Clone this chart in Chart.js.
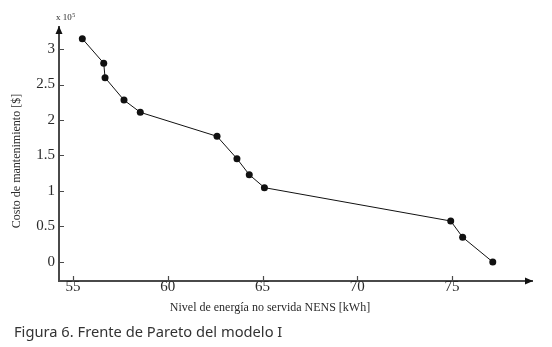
<!DOCTYPE html>
<html>
<head>
<meta charset="utf-8">
<script src="https://cdn.jsdelivr.net/npm/chart.js@4/dist/chart.umd.min.js"></script>
<style>
  html, body { margin: 0; padding: 0; background: #fff; }
</style>
</head>
<body>
<canvas id="chart" width="552" height="347"></canvas>
<script>
// values (cost in units of 10^5 $)
var nensValues = [55.49, 56.62, 56.69, 57.69, 58.55, 62.60, 63.65, 64.30, 65.10, 74.93, 75.56, 77.15];
var costValues = [3.145, 2.80, 2.596, 2.28, 2.108, 1.77, 1.455, 1.23, 1.047, 0.577, 0.348, 0.0];
var xTickValues = [55, 60, 65, 70, 75];
var yTickValues = [0, 0.5, 1, 1.5, 2, 2.5, 3];

var xTitle = 'Nivel de energía no servida NENS [kWh]';
var yTitle = 'Costo de mantenimiento [$]';
var caption = 'Figura 6. Frente de Pareto del modelo I';

var axisColor = '#4a4a4a';
var textColor = '#2a2a2a';
var serif = '"Liberation Serif", "DejaVu Serif", serif';

var points = nensValues.map(function (x, i) { return { x: x, y: costValues[i] }; });

// arrows, inward tick marks and the loose texts of the figure
var decor = {
  id: 'decor',
  afterDraw: function (chart) {
    var ctx = chart.ctx;
    var a = chart.chartArea;
    var xs = chart.scales.x, ys = chart.scales.y;
    ctx.save();
    ctx.strokeStyle = axisColor;
    ctx.lineWidth = 1.2;
    ctx.beginPath();
    xTickValues.forEach(function (v) {
      var px = Math.round(xs.getPixelForValue(v)) + 0.5;
      ctx.moveTo(px, a.bottom);
      ctx.lineTo(px, a.bottom - 5);
    });
    yTickValues.forEach(function (v) {
      var py = Math.round(ys.getPixelForValue(v)) + 0.5;
      ctx.moveTo(a.left, py);
      ctx.lineTo(a.left + 5, py);
    });
    ctx.stroke();

    // arrow heads
    ctx.fillStyle = '#111';
    ctx.beginPath();
    ctx.moveTo(a.left, a.top - 1);
    ctx.lineTo(a.left - 3.5, a.top + 7);
    ctx.lineTo(a.left + 3.5, a.top + 7);
    ctx.closePath();
    ctx.fill();
    ctx.beginPath();
    ctx.moveTo(a.right + 1, a.bottom);
    ctx.lineTo(a.right - 7, a.bottom - 3.5);
    ctx.lineTo(a.right - 7, a.bottom + 3.5);
    ctx.closePath();
    ctx.fill();

    // axis titles
    ctx.fillStyle = textColor;
    ctx.font = '12px ' + serif;
    ctx.textAlign = 'center';
    ctx.textBaseline = 'middle';
    ctx.fillText(xTitle, 270, 308);
    ctx.save();
    ctx.translate(17, 161);
    ctx.rotate(-Math.PI / 2);
    ctx.fillText(yTitle, 0, 0);
    ctx.restore();

    // exponent
    ctx.textAlign = 'left';
    ctx.font = '9px ' + serif;
    ctx.fillText('x 10', 56, 18);
    var w = ctx.measureText('x 10').width;
    ctx.font = '6px ' + serif;
    ctx.fillText('5', 56 + w + 0.5, 15);

    // caption
    ctx.fillStyle = '#333';
    ctx.font = '14.7px "Noto Sans", sans-serif';
    ctx.fillText(caption, 14, 333);
    ctx.restore();
  }
};

var chart = new Chart(document.getElementById('chart'), {
  type: 'scatter',
  data: {
    datasets: [{
      data: points,
      showLine: true,
      borderColor: '#111',
      borderWidth: 1,
      backgroundColor: '#111',
      pointRadius: 3.5,
      pointBorderWidth: 0,
      pointBackgroundColor: '#111'
    }]
  },
  options: {
    responsive: false,
    animation: false,
    layout: { padding: { left: 0, top: 27, right: 20, bottom: 0 } },
    plugins: {
      legend: { display: false },
      tooltip: { enabled: false }
    },
    scales: {
      x: {
        type: 'linear',
        min: 54.26,
        max: 79.22,
        afterFit: function (scale) { scale.height = 66; },
        afterBuildTicks: function (scale) {
          scale.ticks = xTickValues.map(function (v) { return { value: v }; });
        },
        grid: { display: true, drawOnChartArea: false, drawTicks: false },
        border: { display: true, color: axisColor, width: 2 },
        ticks: {
          padding: -3,
          color: textColor,
          font: { family: serif, size: 15 },
          callback: function (v) { return String(v); }
        }
      },
      y: {
        type: 'linear',
        min: -0.268,
        max: 3.31,
        afterFit: function (scale) { scale.width = 59; },
        afterBuildTicks: function (scale) {
          scale.ticks = yTickValues.map(function (v) { return { value: v }; });
        },
        grid: { display: true, drawOnChartArea: false, drawTicks: false },
        border: { display: true, color: axisColor, width: 2 },
        ticks: {
          padding: 4,
          color: textColor,
          font: { family: serif, size: 15 },
          callback: function (v) { return String(v); }
        }
      }
    }
  },
  plugins: [decor]
});
</script>
</body>
</html>
